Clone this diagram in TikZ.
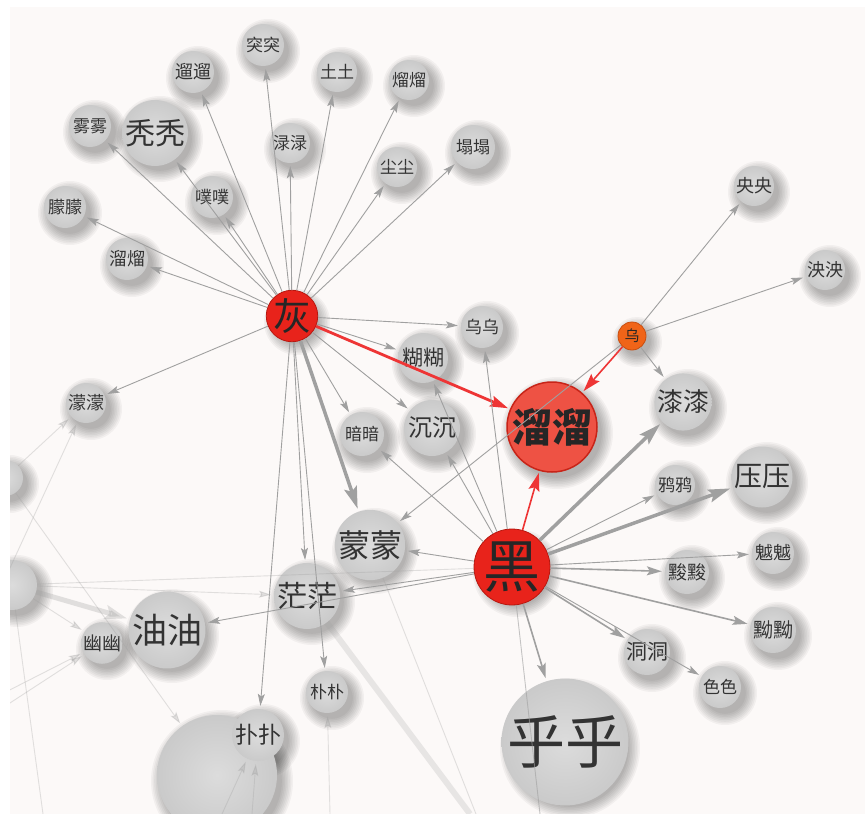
\documentclass[tikz,border=0pt]{standalone}
\usepackage{fontspec}
\setmainfont{Noto Sans CJK SC}
\usetikzlibrary{arrows.meta}
\definecolor{bgc}{HTML}{FCF9F8}
\definecolor{edgec}{HTML}{A0A0A0}
\definecolor{txt}{HTML}{333333}
\definecolor{redn}{HTML}{E8231B}
\definecolor{redd}{HTML}{B8170F}
\definecolor{redl}{HTML}{EE5244}
\definecolor{redlb}{HTML}{C82418}
\definecolor{orn}{HTML}{F06418}
\definecolor{ornd}{HTML}{C84E10}
\definecolor{edgered}{HTML}{EE3535}
\definecolor{gin}{HTML}{DCDCDC}
\definecolor{gout}{HTML}{CACACA}
\tikzset{
  sz/.style={minimum size=#1},
  fs/.style={font=\fontsize{#1}{#1}\selectfont},
  gn/.style={circle, inner sep=0pt, inner color=gin, outer color=gout, text=txt},
  rn/.style={circle, inner sep=0pt, fill=redn, draw=redd, line width=0.8pt, text=black!85},
  shadowc/.style={fill=black, opacity=0.04},
  ed/.style={draw=edgec, line width=0.9pt, -{Stealth[length=12pt,width=7pt,inset=2.5pt]}, shorten >=3pt},
  edm/.style={draw=edgec, line width=1.6pt, -{Stealth[length=15pt,width=9pt,inset=3pt]}, shorten >=3pt},
  edk/.style={draw=edgec, line width=3.5pt, -{Stealth[length=22pt,width=13pt,inset=4pt]}, shorten >=3pt},
  edr/.style={draw=edgered, line width=#1, -{Stealth[length=18pt,width=11pt,inset=3pt]}, shorten >=2pt},
  fe/.style={ed, opacity=0.3},
  fl/.style={draw=edgec, line width=0.9pt, opacity=0.3},
}
\def\greynodes{A/5/478/36/17/{},B/12/585/50/17/{},big/217/775/120/17/{},
tutu/263/45/42/17/突突,liuw/193/72/42/18/遛遛,tu/337/72/40/17/土土,liuh/409/80/40/17/熘熘,
wu2/90/126/42/17/雾雾,tuo/155/133/64/30/秃秃,lu/290/143/40/17/渌渌,ta/473/147/44/17/塌塌,
chen2/397/167/40/17/尘尘,pupu/212/197/42/17/噗噗,mengy/65/207/42/17/朦朦,liuhh/127/259/42/18/溜熘,
yang/754/186/40/18/央央,yang2/825/270/40/18/泱泱,wuwu/482/327/42/17/乌乌,huhu/423/358/50/21/糊糊,
mengs/86/403/40/18/濛濛,qi/683/402/56/26/漆漆,an/362/434/44/17/暗暗,chen/432/428/56/24/沉沉,
ya/762/477/60/28/压压,yab/675/485/40/17/鸦鸦,meng/370/545/64/32/蒙蒙,xu/773/553/42/18/魆魆,
qu/687/572/44/19/黢黢,mang/307/596/64/30/茫茫,you/167/630/72/35/油油,youy/102/643/40/19/幽幽,
youh/773/630/46/20/黝黝,dong/647/652/46/21/洞洞,se/720/687/42/17/色色,pu/327/692/42/17/朴朴,
pu2/258/735/52/23/扑扑,hu/565/742/118/58/乎乎}
\begin{document}
\begin{tikzpicture}[x=1pt,y=-1pt]
\useasboundingbox (0,0) rectangle (865,814);
\fill[white] (0,0) rectangle (865,814);
\fill[bgc] (10,7) rectangle (865,814);
\begin{scope}
\clip (10,7) rectangle (865,814);
% soft shadows (stacked translucent discs)
\foreach \n/\x/\y/\d/\f/\t in \greynodes
  \foreach \k in {0,...,7}
    \fill[shadowc] (\x+5,\y+6) circle[radius={(\d/2+11-\k*1.6)*1pt}];
\foreach \x/\y/\d in {292/316/44,512/567/66,552/427/90,632/336/28}
  \foreach \k in {0,...,7}
    \fill[shadowc] (\x+5,\y+6) circle[radius={(\d/2+11-\k*1.6)*1pt}];
% grey nodes
\foreach \n/\x/\y/\d/\f/\t in \greynodes
  \node[gn,sz=\d,fs=\f] (\n) at (\x,\y) {\t};
% coloured nodes
\node[rn,sz=44,fs=38] (hui) at (292,316) {灰};
\node[rn,sz=66,fs=57] (hei) at (512,567) {黑};
\node[rn,sz=90,fill=redl,draw=redlb,line width=1.5pt,fs=40] (liu) at (552,427) {\bfseries 溜溜};
\node[rn,sz=28,fill=orn,draw=ornd,fs=15] (wu) at (632,336) {乌};
% free ends
\coordinate (p1) at (-14,620);
\coordinate (p2) at (-10,700);
\coordinate (p3) at (-10,716);
\coordinate (b1) at (43,814);
\coordinate (b2) at (470,814);
\coordinate (b3) at (476,814);
\coordinate (b4) at (540,814);
\coordinate (b5) at (222,814);
\coordinate (b6) at (252,814);
\coordinate (b7) at (330,814);
% faint edges
\draw[fe] (A) -- (mengs);
\draw[fe] (p1) -- (mengs);
\draw[fe] (A) -- (big);
\draw[fe] (B) -- (mang);
\draw[fe,line width=5pt,-{Stealth[length=22pt,width=14pt,inset=4pt]}] (B) -- (you);
\draw[fe] (B) -- (youy);
\draw[fl] (B) -- (hei);
\draw[fl] (B) -- (b1);
\draw[fe] (p2) -- (youy);
\draw[fe] (p3) -- (youy);
\draw[fl,line width=6pt,opacity=0.22] (mang) -- (b2);
\draw[fl] (meng) -- (b3);
\draw[fl,opacity=0.6] (hei) -- (b4);
\draw[fe] (b5) -- (pu2);
\draw[fe] (b6) -- (pu2);
\draw[fe] (b7) -- (pu);
% edges from 灰
\foreach \t in {liuhh,mengy,wu2,tuo,pupu,liuw,tutu,lu,tu,liuh,chen2,ta,mengs,wuwu,huhu,an,chen,mang,pu,pu2}
  \draw[ed] (hui) -- (\t);
\draw[edk] (hui) -- (meng);
\draw[edr=2.8pt] (hui) -- (liu);
% edges from 乌
\draw[ed] (wu) -- (yang);
\draw[ed] (wu) -- (yang2);
\draw[ed] (wu) -- (qi);
\draw[ed] (wu) -- (meng);
\draw[edr=1.6pt] (wu) -- (liu);
% edges from 黑
\foreach \t in {yab,xu,se,meng,mang,you,an,chen,huhu,wuwu}
  \draw[ed] (hei) -- (\t);
\foreach \t in {qu,youh,dong,hu}
  \draw[edm] (hei) -- (\t);
\draw[edk] (hei) -- (qi);
\draw[edk] (hei) -- (ya);
\draw[edr=1.6pt] (hei) -- (liu);
\end{scope}
\end{tikzpicture}
\end{document}
